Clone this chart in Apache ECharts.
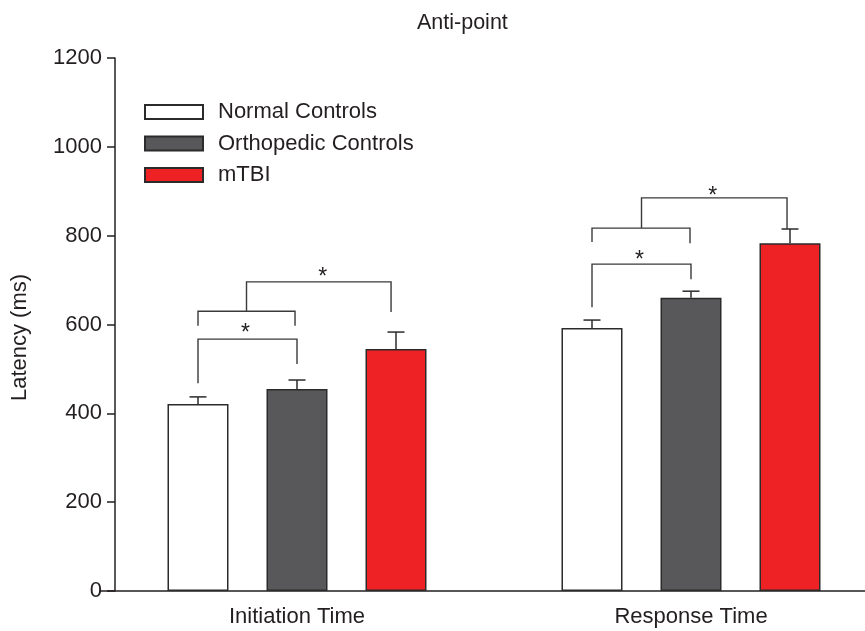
<!DOCTYPE html>
<html>
<head>
<meta charset="utf-8">
<script src="https://cdn.jsdelivr.net/npm/echarts@6/dist/echarts.min.js"></script>
<style>
  html, body { margin: 0; padding: 0; background: #fff; }
  #chart { width: 865px; height: 631px; }
</style>
</head>
<body>
<div id="chart"></div>
<script>
const categories = ['Initiation Time', 'Response Time'];
const groups = ['Normal Controls', 'Orthopedic Controls', 'mTBI'];
const normalMeans = [421, 592];
const orthoMeans = [455, 660];
const mtbiMeans = [545, 783];
const normalErrTop = [437, 610];
const orthoErrTop = [475, 675];
const mtbiErrTop = [583, 815];

// significance brackets: category, then path points as [bar slot, ms]
const brackets = [
  [0, [[0, 468], [0, 567], [1, 567], [1, 511]]],
  [0, [[0, 597], [0, 630], [0.98, 630], [0.98, 597]]],
  [0, [[0.49, 630], [0.49, 696], [1.95, 696], [1.95, 628]]],
  [1, [[0, 639], [0, 736], [1, 736], [1, 702]]],
  [1, [[0, 786], [0, 817], [0.99, 817], [0.99, 783]]],
  [1, [[0.5, 817], [0.5, 885], [1.97, 885], [1.97, 815]]]
];
const stars = [[0, 0.48, 590], [0, 1.26, 716], [1, 0.48, 754], [1, 1.22, 900]];

const colors = ['#ffffff', '#58585a', '#ee2224'];
const edge = '#2b2b2b';
const ink = '#231f20';
const barW = 61;
const slotStep = 99; // bar width + gap

const chart = echarts.init(document.getElementById('chart'));

function slotX(api, cat, slot, v) {
  const p = api.coord([cat, v]);
  return [p[0] + (slot - 1) * slotStep, p[1]];
}

const errData = [];
[normalMeans, orthoMeans, mtbiMeans].forEach((m, s) => {
  const tops = [normalErrTop, orthoErrTop, mtbiErrTop][s];
  m.forEach((v, c) => errData.push([c, s, v, tops[c]]));
});

const barSeries = [normalMeans, orthoMeans, mtbiMeans].map((d, i) => ({
  name: groups[i],
  type: 'bar',
  data: d,
  barWidth: barW,
  barGap: '62.3%',
  itemStyle: { color: colors[i], borderColor: edge, borderWidth: 1.5 },
  emphasis: { disabled: true }
}));

chart.setOption({
  animation: false,
  title: {
    text: 'Anti-point',
    left: 412, top: 7,
    textStyle: { fontFamily: 'Liberation Sans', fontSize: 21.5, fontWeight: 'normal', color: ink }
  },
  legend: {
    orient: 'vertical',
    left: 139, top: 96,
    itemWidth: 58, itemHeight: 14, itemGap: 9.5,
    icon: 'rect',
    data: groups,
    textStyle: { fontFamily: 'Liberation Sans', fontSize: 22, color: ink, padding: [0, 0, 0, 10] }
  },
  grid: { left: 100, top: 58, bottom: 40, width: 788, outerBoundsMode: 'none' },
  xAxis: {
    type: 'category',
    data: categories,
    axisLine: { lineStyle: { color: ink, width: 1.5 } },
    axisTick: { show: false },
    axisLabel: { fontFamily: 'Liberation Sans', fontSize: 22, color: ink, margin: 15 }
  },
  yAxis: {
    type: 'value',
    min: 0, max: 1200, interval: 200,
    offset: -15,
    name: 'Latency (ms)',
    nameLocation: 'middle',
    nameGap: 84,
    nameTextStyle: { fontFamily: 'Liberation Sans', fontSize: 22, color: ink, padding: [0, 26, 0, 0] },
    axisLine: { show: true, lineStyle: { color: ink, width: 1.5 } },
    axisTick: { show: true, length: 8, lineStyle: { color: ink, width: 1.5 } },
    axisLabel: { fontFamily: 'Liberation Sans', fontSize: 22, color: ink, margin: 13, formatter: v => String(v) },
    splitLine: { show: false }
  },
  series: barSeries.concat([
    {
      type: 'custom',
      data: errData,
      z: 5,
      renderItem: function (params, api) {
        const c = api.value(0), s = api.value(1);
        const a = slotX(api, c, s, api.value(2));
        const b = slotX(api, c, s, api.value(3));
        const st = { stroke: edge, lineWidth: 1.5 };
        return {
          type: 'group',
          children: [
            { type: 'line', shape: { x1: a[0], y1: a[1], x2: b[0], y2: b[1] }, style: st },
            { type: 'line', shape: { x1: b[0] - 8.5, y1: b[1], x2: b[0] + 8.5, y2: b[1] }, style: st }
          ]
        };
      }
    },
    {
      type: 'custom',
      data: brackets.map((b, i) => [b[0], i]),
      z: 5,
      renderItem: function (params, api) {
        const b = brackets[params.dataIndex];
        const pts = b[1].map(p => slotX(api, b[0], p[0], p[1]));
        return {
          type: 'polyline',
          shape: { points: pts },
          style: { stroke: '#3a3a3a', lineWidth: 1.4, fill: null }
        };
      }
    },
    {
      type: 'custom',
      data: stars,
      z: 5,
      renderItem: function (params, api) {
        const p = slotX(api, api.value(0), api.value(1), api.value(2));
        return {
          type: 'text',
          x: p[0], y: p[1] + 5,
          style: { text: '*', fontFamily: 'Liberation Sans', fontSize: 23, fill: ink, align: 'center', verticalAlign: 'middle' }
        };
      }
    }
  ])
});
</script>
</body>
</html>
